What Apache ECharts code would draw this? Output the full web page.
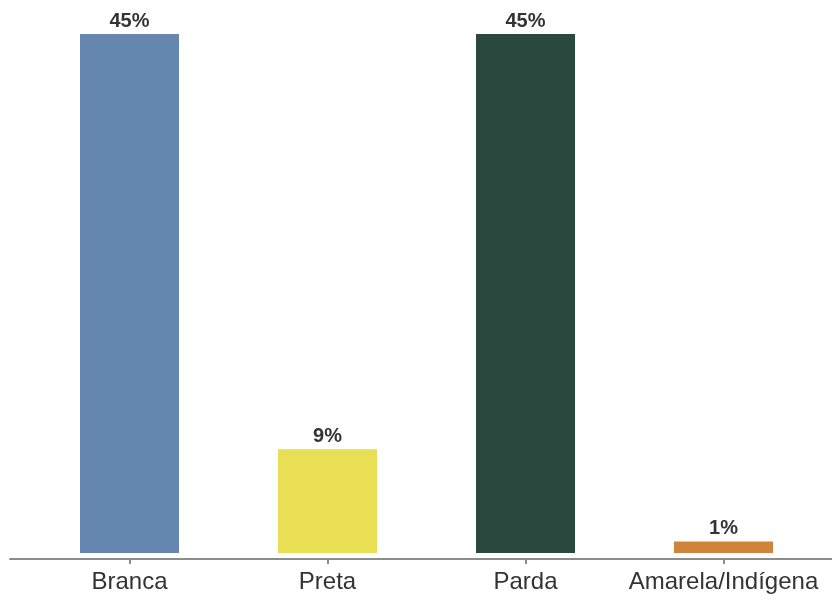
<!DOCTYPE html>
<html>
<head>
<meta charset="utf-8">
<script src="https://cdn.jsdelivr.net/npm/echarts@6/dist/echarts.min.js"></script>
<style>
  html, body { margin: 0; padding: 0; background: #fff; }
  #chart { width: 832px; height: 600px; }
</style>
</head>
<body>
<div id="chart"></div>
<script>
(function() {
  'use strict';

  // dados
  var categorias = ['Branca', 'Preta', 'Parda', 'Amarela/Indígena'];
  var valores = [45, 9, 45, 1];
  var cores = ['#6687b0', '#e8df55', '#2b483e', '#cf843a'];

  var myChart = echarts.init(document.getElementById('chart'));

  var option = {
    animation: false,
    grid: [
      { left: 30.5, right: 9.5, top: 34, bottom: 41 },
      // só para a linha do eixo, que vai quase de borda a borda
      { left: 10, right: -10, top: 34, bottom: 41 }
    ],
    xAxis: [{
      type: 'category',
      gridIndex: 0,
      data: categorias,
      axisLine: { show: false, onZero: false },
      axisTick: {
        show: true,
        interval: 0,
        alignWithLabel: true,
        length: 5,
        lineStyle: { color: '#8c8c8c', width: 2 }
      },
      axisLabel: {
        interval: 0,
        hideOverlap: false,
        color: '#333',
        fontSize: 24,
        fontFamily: 'Liberation Sans, Arial, sans-serif',
        margin: 11
      }
    }, {
      type: 'category',
      gridIndex: 1,
      data: [''],
      axisLine: { show: true, onZero: false, lineStyle: { color: '#8c8c8c', width: 2 } },
      axisTick: { show: false },
      axisLabel: { show: false }
    }],
    yAxis: [{
      type: 'value',
      gridIndex: 0,
      min: -0.52,
      max: 45,
      show: false,
      splitLine: { show: false }
    }, {
      type: 'value',
      gridIndex: 1,
      show: false
    }],
    series: [{
      type: 'bar',
      xAxisIndex: 0,
      yAxisIndex: 0,
      barWidth: 99,
      data: valores.map(function(v, i) {
        return { value: v, itemStyle: { color: cores[i] } };
      }),
      label: {
        show: true,
        position: 'top',
        distance: 3,
        formatter: '{c}%',
        color: '#333',
        fontSize: 20,
        fontWeight: 'bold',
        fontFamily: 'Liberation Sans, Arial, sans-serif'
      }
    }]
  };

  myChart.setOption(option);

}());
</script>
</body>
</html>
